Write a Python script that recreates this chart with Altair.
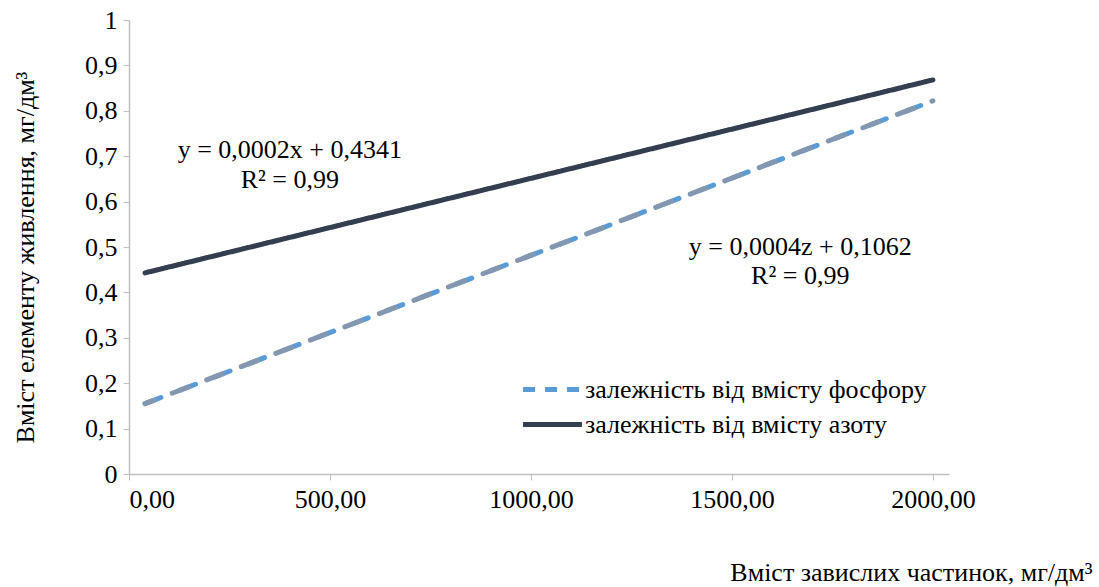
import altair as alt
import pandas as pd

# data
x_vals = [40, 2000]
phos_vals = [0.155, 0.822]
nitr_vals = [0.443, 0.868]
trend_phos = [0.155, 0.822]
series_names = ["залежність від вмісту фосфору", "залежність від вмісту азоту"]
x_ticks = [0, 500, 1000, 1500, 2000]
y_ticks = [0, 0.1, 0.2, 0.3, 0.4, 0.5, 0.6, 0.7, 0.8, 0.9, 1.0]
ann_text = ["y = 0,0002x + 0,4341", "R² = 0,99", "y = 0,0004z + 0,1062", "R² = 0,99"]
ann_x = [400, 400, 1670, 1670]
ann_y = [0.714, 0.648, 0.50, 0.436]

FONT = "Liberation Serif"
FS = 26

rows = []
for xv, pv in zip(x_vals, phos_vals):
    rows.append({"x": xv, "y": pv, "s": series_names[0]})
for xv, nv in zip(x_vals, nitr_vals):
    rows.append({"x": xv, "y": nv, "s": series_names[1]})
df = pd.DataFrame(rows)
trend = pd.DataFrame({"x": x_vals, "y": trend_phos})
ann = pd.DataFrame({"t": ann_text, "x": ann_x, "y": ann_y})

xs = alt.Scale(domain=[0, 2040], nice=False, zero=False)
ys = alt.Scale(domain=[0, 1], nice=False)

x_axis = alt.Axis(
    values=x_ticks, grid=False,
    labelExpr="replace(format(datum.value, '.2f'), '.', ',')",
    title="Вміст завислих частинок, мг/дм³",
    titleAnchor="start", titleAlign="right", titleX=963, titleY=106,
    titleBaseline="alphabetic",
)
y_axis = alt.Axis(
    values=y_ticks, grid=False,
    labelExpr="replace(format(datum.value, '.1~f'), '.', ',')",
    title="Вміст елементу живлення, мг/дм³",
    titleX=-104, titleY=237, titleAngle=-90, titleAlign="center",
    titleBaseline="middle", titleAnchor="start",
)

leg = alt.Legend(title=None, orient="none", legendX=402, legendY=348,
                 symbolType="M-1.55,0H1.55", symbolSize=1444, symbolStrokeWidth=5,
                 labelFont=FONT, labelFontSize=FS, labelColor="#000000",
                 rowPadding=0, labelOffset=11, labelLimit=600)

lines = alt.Chart(df).mark_line(strokeWidth=5, strokeCap="round").encode(
    x=alt.X("x:Q", scale=xs, axis=x_axis),
    y=alt.Y("y:Q", scale=ys, axis=y_axis),
    color=alt.Color("s:N", scale=alt.Scale(domain=series_names, range=["#5B9BD5", "#333F50"]),
                    legend=leg),
    strokeDash=alt.StrokeDash("s:N", scale=alt.Scale(domain=series_names, range=[[12, 10], [1, 0]]),
                              legend=leg),
    opacity=alt.condition(alt.datum.s == series_names[1], alt.value(1), alt.value(0)),
    detail="s:N",
)

phos_top = alt.Chart(df[df["s"] == series_names[0]]).mark_line(
    strokeWidth=5, strokeCap="round", color="#5B9BD5", strokeDash=[17, 20]).encode(
    x=alt.X("x:Q", scale=xs),
    y=alt.Y("y:Q", scale=ys),
)

trend_line = alt.Chart(trend).mark_line(strokeWidth=5, strokeCap="round", color="#8497B0",
                                        strokeDash=[17, 20], strokeDashOffset=8).encode(
    x=alt.X("x:Q", scale=xs),
    y=alt.Y("y:Q", scale=ys),
)

texts = alt.Chart(ann).mark_text(font=FONT, fontSize=FS, color="#000000", align="center",
                                 baseline="middle").encode(
    x=alt.X("x:Q", scale=xs),
    y=alt.Y("y:Q", scale=ys),
    text="t:N",
)

chart = alt.layer(lines, phos_top, trend_line, texts).properties(
    width=820, height=454,
    padding={"left": 129, "top": 20, "right": 150, "bottom": 113},
    autosize=alt.AutoSizeParams(type="none"),
    background="white",
).configure_view(stroke=None).configure_axis(
    domainColor="#BFBFBF", domainWidth=1.5, tickColor="#BFBFBF", tickSize=6,
    labelFont=FONT, labelFontSize=FS, labelColor="#000000", labelPadding=6,
    titleFont=FONT, titleFontSize=FS, titleColor="#000000", titleFontWeight="normal",
).configure_axisX(labelPadding=6)

chart.save("out.html", embed_options={"renderer": "svg", "actions": False})
